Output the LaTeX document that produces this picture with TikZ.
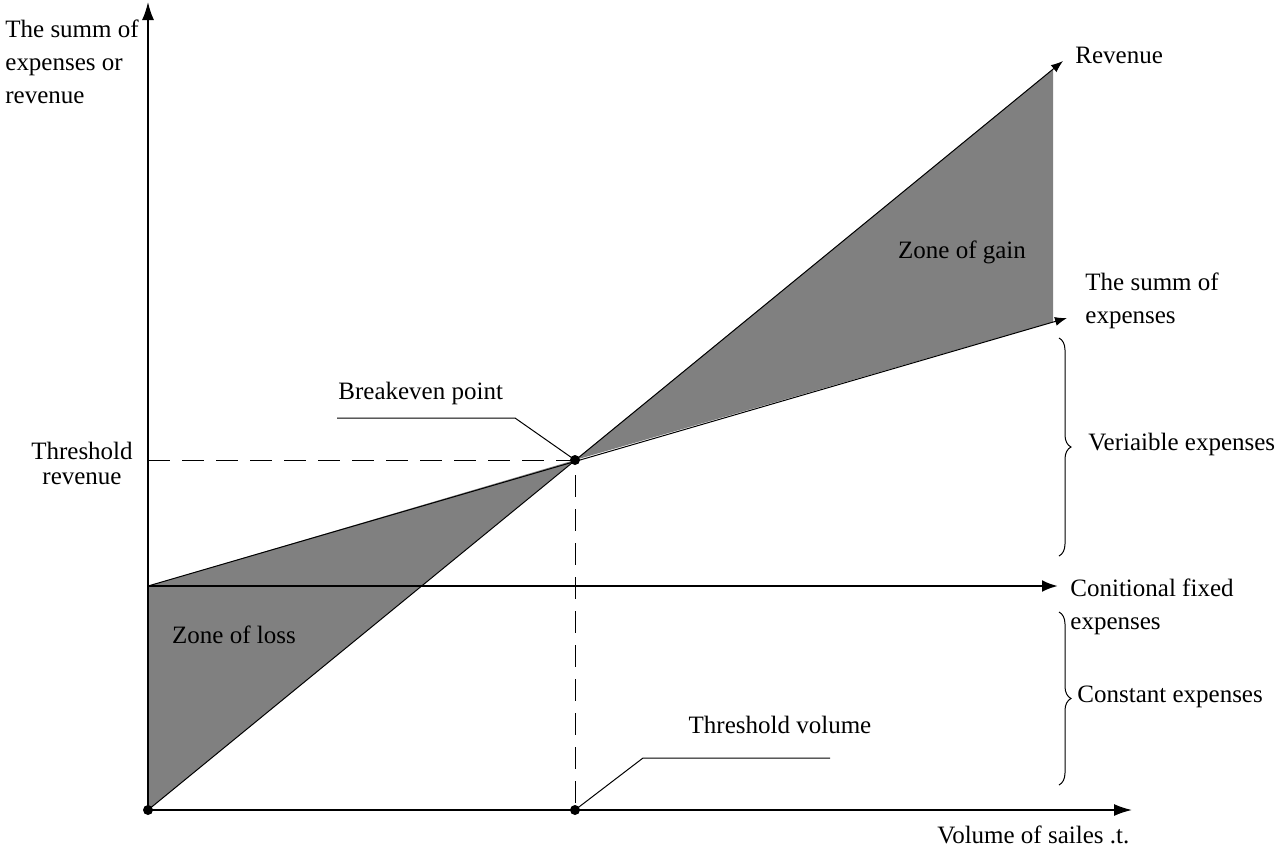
\documentclass[tikz,border=0pt]{standalone}
\usepackage{fontspec}
\setmainfont{Liberation Serif}
\usetikzlibrary{arrows.meta, positioning, decorations.pathreplacing}

\begin{document}
\begin{tikzpicture}[x=0.5pt, y=-0.5pt,
	every node/.style={font=\fontsize{12.5}{16.5}\selectfont, inner sep=0pt},
	axis/.style={line width=0.8pt, -{Latex[length=9pt,width=6pt]}},
	curve/.style={line width=0.5pt, -{Latex[length=6pt,width=4.5pt]}},
	fixline/.style={line width=1.3pt, -{Latex[length=8pt,width=6pt]}},
	guide/.style={line width=0.5pt, dash pattern=on 11pt off 6pt},
	leader/.style={line width=0.5pt},
	zone/.style={fill=black!50},
	dot/.style={circle, fill, inner sep=0pt, minimum size=5pt},
	lbrace/.style={line width=0.5pt, decorate, decoration={brace, amplitude=6pt}}]
	
	\useasboundingbox (0,0) rectangle (1282,848);
	
	% points of the chart
	\coordinate (O) at (148,810);
	\coordinate (ytop) at (148,2);
	\coordinate (xend) at (1132,810);
	\coordinate (F) at (148,586);
	\coordinate (Fend) at (1058,586);
	\coordinate (Rend) at (1063,61);
	\coordinate (Eend) at (1067,318);
	\coordinate (Rtop) at (1053,69);
	\coordinate (Etop) at (1053,322);
	\coordinate (B) at (575,460);
	\coordinate (Ty) at (148,460);
	\coordinate (V) at (575,810);
	\coordinate (bp1) at (337,418);
	\coordinate (bp2) at (515,418);
	\coordinate (tv1) at (830,758);
	\coordinate (tv2) at (643,758);
	
	% zones
	\fill[zone] (O) -- (F) -- (B) -- cycle;
	\fill[zone] (B) -- (Rtop) -- (Etop) -- cycle;
	
	% axes and lines
	\draw[axis] (O) -- (ytop);
	\draw[axis] (O) -- (xend);
	\draw[fixline] (F) -- (Fend);
	\draw[curve] (O) -- (Rend);
	\draw[curve] (F) -- (Eend);
	\draw[guide] (Ty) -- (B) -- (V);
	\draw[leader] (bp1) -- (bp2) -- (B);
	\draw[leader] (tv1) -- (tv2) -- (V);
	
	\node[dot] (o) at (O) {};
	\node[dot] (b) at (B) {};
	\node[dot] (v) at (V) {};
	
	% braces
	\draw[lbrace] (1059,338) -- (1059,556);
	\draw[lbrace] (1059,612) -- (1059,785);
	
	% labels
	\node[anchor=west, align=left] (ylabel) at (5,62) {The summ of\\expenses or\\revenue};
	\node[anchor=west] (rev) at (1075,55) {Revenue};
	\node (gain) at (962,252) {Zone of gain};
	\node[anchor=west, align=left] (exp) at (1085,301) {The summ of\\expenses};
	\node[anchor=west] (bpl) at (338,393) {Breakeven point};
	\node[align=center, font=\fontsize{12.5}{12.5}\selectfont] (trev) at (82,463) {Threshold\\revenue};
	\node[anchor=west] (var) at (1088,444) {Veriaible expenses};
	\node[anchor=west, align=left] (fix) at (1070,607) {Conitional fixed\\expenses};
	\node (loss) at (234,635) {Zone of loss};
	\node[anchor=west] (const) at (1077,697) {Constant expenses};
	\node (tvol) at (780,725) {Threshold volume};
	\node[anchor=west] (xlabel) at (937,835) {Volume of sailes .t.};
\end{tikzpicture}
\end{document}
